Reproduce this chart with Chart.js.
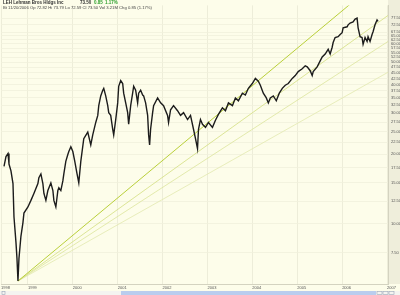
<!DOCTYPE html>
<html>
<head>
<meta charset="utf-8">
<script src="https://cdn.jsdelivr.net/npm/chart.js@4"></script>
<style>
  body { margin: 0; background: #fdfdea; }
  canvas { display: block; }
</style>
</head>
<body>
<canvas id="priceChart" width="400" height="295"></canvas>
<script>
// LEH daily prices (decimal year, price)
const dates = [
  1998.467, 1998.511, 1998.556, 1998.578, 1998.622, 1998.667, 1998.689, 1998.733, 1998.756, 1998.778,
  1998.800, 1998.844, 1998.889, 1998.911, 1999.000, 1999.067, 1999.133, 1999.222, 1999.244, 1999.289,
  1999.333, 1999.356, 1999.400, 1999.444, 1999.511, 1999.556, 1999.578, 1999.622, 1999.667, 1999.689,
  1999.733, 1999.778, 1999.800, 1999.844, 1999.889, 1999.911, 1999.956, 2000.000, 2000.044, 2000.089,
  2000.133, 2000.178, 2000.244, 2000.333, 2000.400, 2000.444, 2000.511, 2000.556, 2000.578, 2000.622,
  2000.667, 2000.689, 2000.733, 2000.778, 2000.800, 2000.844, 2000.889, 2000.911, 2000.956, 2001.000,
  2001.022, 2001.067, 2001.111, 2001.133, 2001.178, 2001.222, 2001.244, 2001.289, 2001.333, 2001.356,
  2001.400, 2001.444, 2001.467, 2001.511, 2001.556, 2001.578, 2001.622, 2001.667, 2001.689, 2001.711,
  2001.733, 2001.778, 2001.800, 2001.889, 2001.956, 2002.022, 2002.111, 2002.133, 2002.178, 2002.244,
  2002.333, 2002.400, 2002.467, 2002.556, 2002.622, 2002.689, 2002.733, 2002.778, 2002.800, 2002.844,
  2002.889, 2002.956, 2003.022, 2003.111, 2003.178, 2003.244, 2003.333, 2003.400, 2003.467, 2003.556,
  2003.622, 2003.689, 2003.778, 2003.844, 2003.911, 2004.000, 2004.067, 2004.133, 2004.178, 2004.244,
  2004.311, 2004.356, 2004.400, 2004.467, 2004.533, 2004.600, 2004.667, 2004.733, 2004.800, 2004.889,
  2004.956, 2005.022, 2005.111, 2005.178, 2005.222, 2005.289, 2005.333, 2005.356, 2005.444, 2005.511,
  2005.556, 2005.622, 2005.689, 2005.733, 2005.778, 2005.800, 2005.844, 2005.911, 2005.956, 2006.000,
  2006.022, 2006.111, 2006.133, 2006.178, 2006.244, 2006.289, 2006.333, 2006.356, 2006.400, 2006.444,
  2006.467, 2006.511, 2006.556, 2006.578, 2006.622, 2006.667, 2006.689, 2006.733, 2006.778, 2006.800
];
const closes = [
  17.7, 19.5, 20.1, 18.1, 16.9, 14.9, 10.7, 8.31, 7.05, 5.64,
  7.05, 8.81, 10.1, 11.1, 11.8, 12.6, 13.5, 14.9, 15.8, 16.4,
  14.9, 13.5, 12.6, 13.9, 15.0, 13.9, 12.6, 11.8, 13.9, 14.3,
  13.9, 15.3, 16.4, 18.6, 19.9, 20.5, 21.5, 20.5, 18.6, 16.6,
  15.0, 18.6, 23.3, 24.9, 21.9, 24.2, 27.4, 29.4, 32.4, 35.7,
  37.8, 38.5, 35.7, 32.4, 30.2, 29.4, 25.6, 24.2, 28.2, 33.3,
  39.3, 41.6, 40.4, 36.7, 33.3, 30.2, 26.9, 32.4, 36.7, 39.3,
  37.8, 33.3, 36.7, 37.8, 36.0, 35.7, 33.3, 29.4, 24.2, 21.9,
  25.6, 30.2, 32.4, 35.0, 33.3, 32.4, 29.4, 27.4, 31.1, 32.4,
  30.8, 29.4, 30.2, 28.2, 29.4, 25.6, 23.3, 21.1, 25.6, 28.2,
  26.9, 26.1, 27.4, 26.1, 28.0, 29.7, 31.7, 30.8, 33.3, 32.4,
  35.0, 34.0, 36.7, 36.0, 38.5, 40.4, 42.5, 41.3, 39.7, 36.7,
  35.0, 33.3, 35.0, 35.7, 34.0, 36.7, 38.5, 39.7, 40.4, 42.5,
  43.7, 45.5, 46.8, 48.2, 47.7, 45.9, 43.7, 45.5, 47.7, 50.6,
  52.6, 54.2, 56.8, 54.2, 58.0, 60.8, 63.9, 64.4, 65.8, 67.0,
  70.4, 71.1, 72.5, 73.8, 74.6, 76.8, 77.5, 70.4, 64.4, 63.9,
  59.7, 63.9, 61.4, 64.4, 61.4, 65.8, 67.7, 72.5, 76.1, 75.0
];

// fan lines drawn from the Oct 1998 low
const fanStart = [1998.778, 5.64];
const fanEnds = [[2007.022, 122], [2007.022, 79.6], [2007.022, 61.4], [2007.022, 45.2]];
const fanColors = ['#b9cf3a', '#d3de80', '#dce59c', '#e2e9ae'];

const yearTicks = [1998.4, 1999, 2000, 2001, 2002, 2003, 2004, 2005, 2006, 2007];
const priceTicks = [7.5, 10, 12.5, 15, 17.5, 20, 22.5, 25, 27.5, 30, 32.5, 35, 37.5, 40, 42.5,
  45, 47.5, 50, 52.5, 55, 57.5, 60, 62.5, 65, 67.5, 72.5, 77.5];

const frame = {
  id: 'frame',
  beforeDraw(chart) {
    const { ctx, chartArea: a } = chart;
    ctx.save();
    ctx.fillStyle = '#fdfdea';
    ctx.fillRect(0, 0, chart.width, chart.height);
    ctx.fillStyle = '#efeedb';
    ctx.fillRect(a.right, 0, chart.width - a.right, a.bottom);
    ctx.restore();
  },
  afterDraw(chart) {
    const { ctx } = chart;
    ctx.save();
    // scroll bar along the bottom
    const y0 = chart.height - 4;
    ctx.fillStyle = '#f4f4f0';
    ctx.fillRect(0, y0, chart.width, 4);
    ctx.fillStyle = '#b9cdee';
    ctx.fillRect(121, y0, 255, 4);
    ctx.strokeStyle = '#9aa6b8';
    ctx.lineWidth = 0.6;
    ctx.strokeRect(2, y0 + 0.5, 3, 3);
    [377, 383, 389].forEach(x => ctx.strokeRect(x, y0 + 0.5, 5, 3));
    // header text
    ctx.textBaseline = 'top';
    ctx.font = 'bold 4.5px "Liberation Sans"';
    ctx.fillStyle = '#333';
    ctx.fillText('LEH Lehman Bros Hldgs Inc', 3, 1);
    ctx.fillText('73.50', 80, 1);
    ctx.fillStyle = '#2ea02e';
    ctx.fillText('0.85', 94, 1);
    ctx.fillText('1.17%', 105, 1);
    ctx.font = '4.2px "Liberation Sans"';
    ctx.fillStyle = '#444';
    ctx.fillText('Bt 11/20/2006 Op 72.82 Hi 73.79 Lo 72.59 Cl 73.50 Vol 3.21M Chg 0.85 (1.17%)', 3, 6);
    ctx.restore();
  }
};

const datasets = fanEnds.map((end, i) => ({
  type: 'line',
  data: [{ x: fanStart[0], y: fanStart[1] }, { x: end[0], y: end[1] }],
  borderColor: fanColors[i],
  borderWidth: i === 0 ? 1 : 0.8,
  pointRadius: 0,
  order: 2
}));

datasets.push({
  type: 'line',
  data: dates.map((d, i) => ({ x: d, y: closes[i] })),
  borderColor: '#1c1c1c',
  borderWidth: 1.4,
  pointRadius: 0,
  tension: 0,
  order: 1
});

new Chart(document.getElementById('priceChart'), {
  type: 'line',
  data: { datasets: datasets },
  options: {
    responsive: false,
    animation: false,
    layout: { padding: { left: 0, right: 0, top: 0, bottom: 4 } },
    plugins: { legend: { display: false }, tooltip: { enabled: false } },
    scales: {
      x: {
        type: 'linear',
        min: 1998.4,
        max: 2007.022,
        afterBuildTicks: s => { s.ticks = yearTicks.map(v => ({ value: v })); },
        afterFit: s => { s.height = 7; },
        grid: { color: '#e9e9d4', lineWidth: 0.8, drawTicks: false },
        border: { color: '#d4d3c0' },
        ticks: {
          align: 'start',
          autoSkip: false,
          maxRotation: 0,
          padding: 1,
          color: '#555',
          font: { size: 4, family: 'Liberation Sans' },
          callback: v => Math.floor(v)
        }
      },
      y: {
        type: 'logarithmic',
        position: 'right',
        min: 5.475,
        max: 88.0,
        afterBuildTicks: s => { s.ticks = priceTicks.map(v => ({ value: v })); },
        afterFit: s => { s.width = 12; },
        grid: { color: '#f0f0dc', lineWidth: 0.8, drawTicks: false },
        border: { color: '#d4d3c0' },
        ticks: {
          padding: 3,
          color: '#555',
          font: { size: 4, family: 'Liberation Sans' },
          callback: v => Number(v).toFixed(2)
        }
      }
    }
  },
  plugins: [frame]
});
</script>
</body>
</html>
